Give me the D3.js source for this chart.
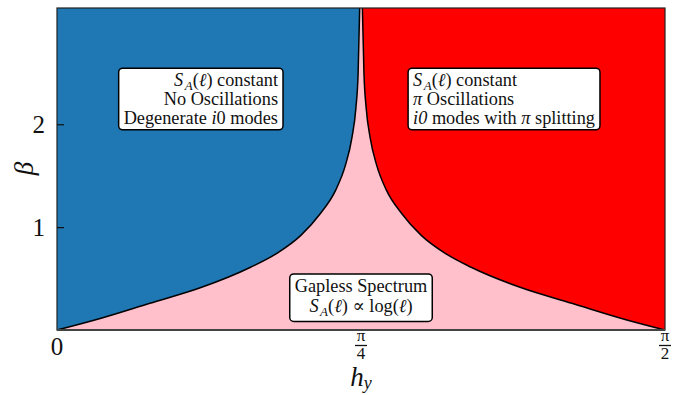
<!DOCTYPE html>
<html>
<head>
<meta charset="utf-8">
<script src="https://cdn.jsdelivr.net/npm/d3@7"></script>
<style>
  body { margin: 0; background: #fff; }
  svg { display: block; }
  text { font-family: "Liberation Serif", "DejaVu Serif", serif; fill: #111; }
</style>
</head>
<body>
<div id="chart"></div>
<script>
// phase boundaries
const leftHy   = [0, 0.10, 0.24, 0.37, 0.50, 0.57, 0.63, 0.68, 0.72, 0.745, 0.762, 0.772, 0.778, 0.782];
const leftBeta = [0, 0.10, 0.26, 0.41, 0.61, 0.75, 0.92, 1.13, 1.36, 1.60, 1.87, 2.15, 2.50, 3.13];
const rightHy   = [0.789, 0.793, 0.799, 0.809, 0.826, 0.851, 0.891, 0.941, 1.001, 1.07, 1.20, 1.33, 1.47, Math.PI / 2];
const rightBeta = [3.13, 2.50, 2.15, 1.87, 1.60, 1.36, 1.13, 0.92, 0.75, 0.61, 0.41, 0.26, 0.10, 0];

const betaMax = 3.13;
const yTicks = [1, 2];
const xTicks = [0, Math.PI / 4, Math.PI / 2];
const xTickNum = ["0", "π", "π"];
const xTickDen = ["", "4", "2"];

const width = 683;
const height = 395;
const margin = { top: 8, right: 18, bottom: 65, left: 57 };

const svg = d3.select('#chart').append('svg')
    .attr('width', width)
    .attr('height', height);

const x = d3.scaleLinear()
    .domain([0, Math.PI / 2])
    .range([margin.left, width - margin.right]);

const y = d3.scaleLinear()
    .domain([0, betaMax])
    .range([height - margin.bottom, margin.top]);

const left = leftHy.map((h, i) => ({ h, b: leftBeta[i] }));
const right = rightHy.map((h, i) => ({ h, b: rightBeta[i] }));

// gapless background
svg.append('rect')
    .attr('x', x(0)).attr('y', y(betaMax))
    .attr('width', x(Math.PI / 2) - x(0))
    .attr('height', y(0) - y(betaMax))
    .attr('fill', '#ffc0cb');

const area = d3.area()
    .x(d => x(d.h))
    .y0(y(betaMax))
    .y1(d => y(d.b))
    .curve(d3.curveMonotoneX);

svg.append('path').datum(left).attr('d', area).attr('fill', '#1f77b4');
svg.append('path').datum(right).attr('d', area).attr('fill', '#ff0000');

const line = d3.line()
    .x(d => x(d.h))
    .y(d => y(d.b))
    .curve(d3.curveMonotoneX);

[left, right].forEach(pts => {
    svg.append('path').datum(pts)
        .attr('d', line)
        .attr('fill', 'none')
        .attr('stroke', '#000')
        .attr('stroke-width', 1.5);
});

// frame
svg.append('rect')
    .attr('x', x(0)).attr('y', y(betaMax))
    .attr('width', x(Math.PI / 2) - x(0))
    .attr('height', y(0) - y(betaMax))
    .attr('fill', 'none')
    .attr('stroke', '#222')
    .attr('stroke-width', 1.2);
svg.append('line')
    .attr('x1', x(0)).attr('x2', x(Math.PI / 2))
    .attr('y1', y(0)).attr('y2', y(0))
    .attr('stroke', '#444').attr('stroke-width', 2.2);

// y axis, inward ticks
const yAxis = svg.append('g')
    .attr('transform', `translate(${x(0)},0)`)
    .call(d3.axisLeft(y).tickValues(yTicks).tickFormat(d3.format('d')).tickSize(-7).tickPadding(12));
yAxis.select('.domain').remove();
yAxis.selectAll('.tick line').attr('stroke', '#111').attr('stroke-width', 1.2);
yAxis.selectAll('.tick text')
    .attr('font-size', 25)
    .attr('font-family', '"Liberation Serif", serif')
    .attr('fill', '#111');

// x axis labels, fractions of pi
const xt = svg.append('g').selectAll('g')
    .data(xTicks)
    .join('g')
    .attr('transform', d => `translate(${x(d)},0)`);
xt.each(function (d, i) {
    const g = d3.select(this);
    if (!xTickDen[i]) {
        g.append('text').attr('y', 355).attr('text-anchor', 'middle')
            .attr('font-size', 25).text(xTickNum[i]);
        return;
    }
    g.append('text').attr('y', 341).attr('text-anchor', 'middle')
        .attr('font-size', 17).text(xTickNum[i]);
    g.append('line').attr('x1', -6).attr('x2', 6)
        .attr('y1', 345.5).attr('y2', 345.5)
        .attr('stroke', '#111').attr('stroke-width', 1.3);
    g.append('text').attr('y', 359).attr('text-anchor', 'middle')
        .attr('font-size', 17).text(xTickDen[i]);
});

// axis titles
const hLabel = svg.append('text')
    .attr('x', x(Math.PI / 4)).attr('y', 386)
    .attr('text-anchor', 'middle')
    .attr('font-size', 27);
hLabel.append('tspan').attr('font-style', 'italic').text('h');
hLabel.append('tspan').attr('font-style', 'italic').attr('font-size', 18).attr('dy', 3).text('y');

svg.append('text')
    .attr('transform', `translate(33,${y(1.57)}) rotate(-90)`)
    .attr('text-anchor', 'middle')
    .attr('font-size', 27)
    .attr('font-style', 'italic')
    .text('β');

// annotation boxes
const SA = [["S", "i"], ["A", "sub"], ["(", ""], ["ℓ", "i"], [")", ""]];
const boxes = [
    { hy: 0.571, beta: 2.37, anchor: 'end', gap: 18.8, lines: [
        [...SA, [" constant", ""]],
        [["No Oscillations", ""]],
        [["Degenerate ", ""], ["i", "i"], ["0", ""], [" modes", ""]]
    ] },
    { hy: 0.920, beta: 2.37, anchor: 'start', gap: 18.8, lines: [
        [...SA, [" constant", ""]],
        [["π", "i"], [" Oscillations", ""]],
        [["i0", "i"], [" modes with ", ""], ["π", "i"], [" splitting", ""]]
    ] },
    { hy: Math.PI / 4, beta: 0.37, anchor: 'middle', gap: 20.5, lines: [
        [["Gapless Spectrum", ""]],
        [...SA, [" ∝ log(", ""], ["ℓ", "i"], [")", ""]]
    ] }
];

boxes.forEach(b => {
    const g = svg.append('g');
    const rect = g.append('rect');
    b.lines.forEach((segs, k) => {
        const t = g.append('text')
            .attr('x', x(b.hy))
            .attr('y', y(b.beta) + k * b.gap)
            .attr('text-anchor', b.anchor)
            .attr('font-size', 18.3);
        let shifted = false;
        segs.forEach(([s, st]) => {
            const ts = t.append('tspan').text(s);
            if (st === 'i') ts.attr('font-style', 'italic');
            if (st === 'sub') {
                ts.attr('font-style', 'italic').attr('font-size', 13)
                    .attr('dx', 1.5).attr('dy', 4);
                shifted = true;
            } else if (shifted) {
                ts.attr('dy', -4);
                shifted = false;
            }
        });
    });
    const bb = g.node().getBBox();
    rect.attr('x', bb.x - 5).attr('y', bb.y - 2)
        .attr('width', bb.width + 10).attr('height', bb.height + 4)
        .attr('rx', 4)
        .attr('fill', '#fff')
        .attr('stroke', '#000')
        .attr('stroke-width', 1.5);
});
</script>
</body>
</html>
